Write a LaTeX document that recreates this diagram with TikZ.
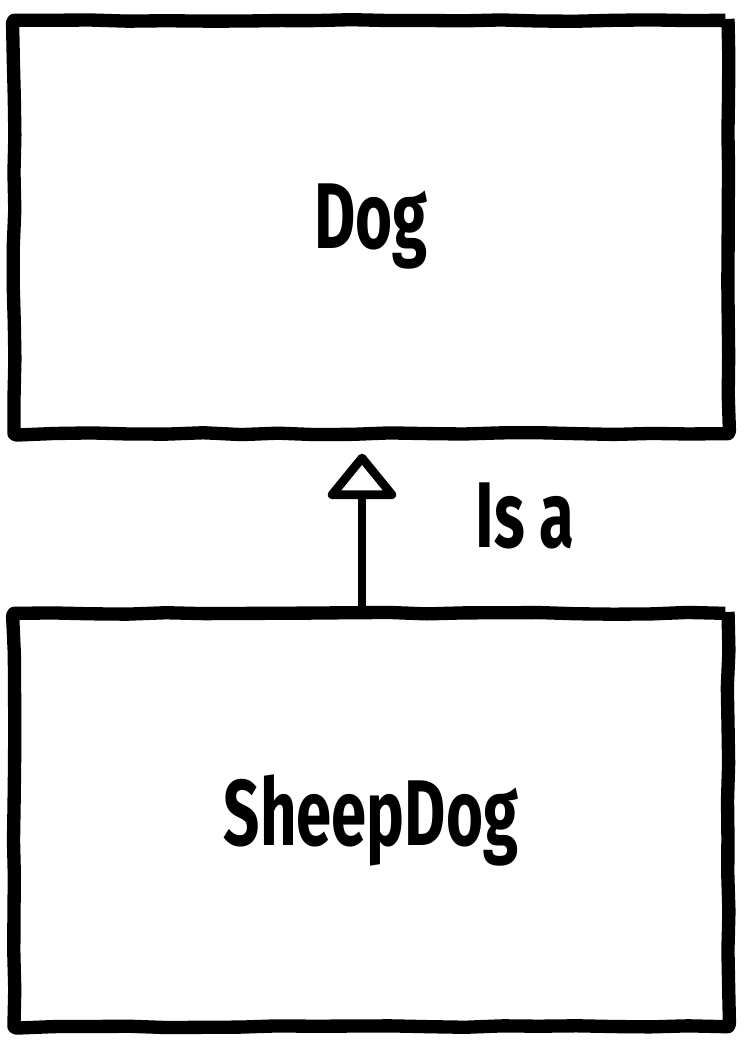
\documentclass[tikz,border=0pt]{standalone}
\usepackage{fontspec}
\setmainfont{Fira Sans}[FakeStretch=0.68]
\usetikzlibrary{arrows.meta, positioning, decorations.pathmorphing}

\begin{document}
\begin{tikzpicture}[
  x=0.75pt, y=-0.75pt,
  classbox/.style={rectangle, draw=black, line width=10pt, minimum width=535.5pt,
    minimum height=310pt, line join=round, rounded corners=2pt,
    decorate, decoration={random steps, segment length=28pt, amplitude=0.7pt},
    font=\fontsize{70}{80}\selectfont\bfseries},
  label/.style={font=\fontsize{70}{80}\selectfont\bfseries},
  isarrow/.style={-{Triangle[open, length=36pt, width=57pt, round]}, line width=6.5pt}
]
\pgfmathsetseed{7}
\useasboundingbox (0,0) rectangle (744,1044);

% classes
\node (dog) [classbox] at (371,227) {Dog};
\node (sheepdog) [classbox] at (371,820) {SheepDog};

% inheritance
\draw [isarrow] ([xshift=-6.75pt]sheepdog.north) -- ([xshift=-6.75pt, yshift=-10pt]dog.south);

% label
\node (isa) [label] at (525,516) {Is a};

\end{tikzpicture}
\end{document}
